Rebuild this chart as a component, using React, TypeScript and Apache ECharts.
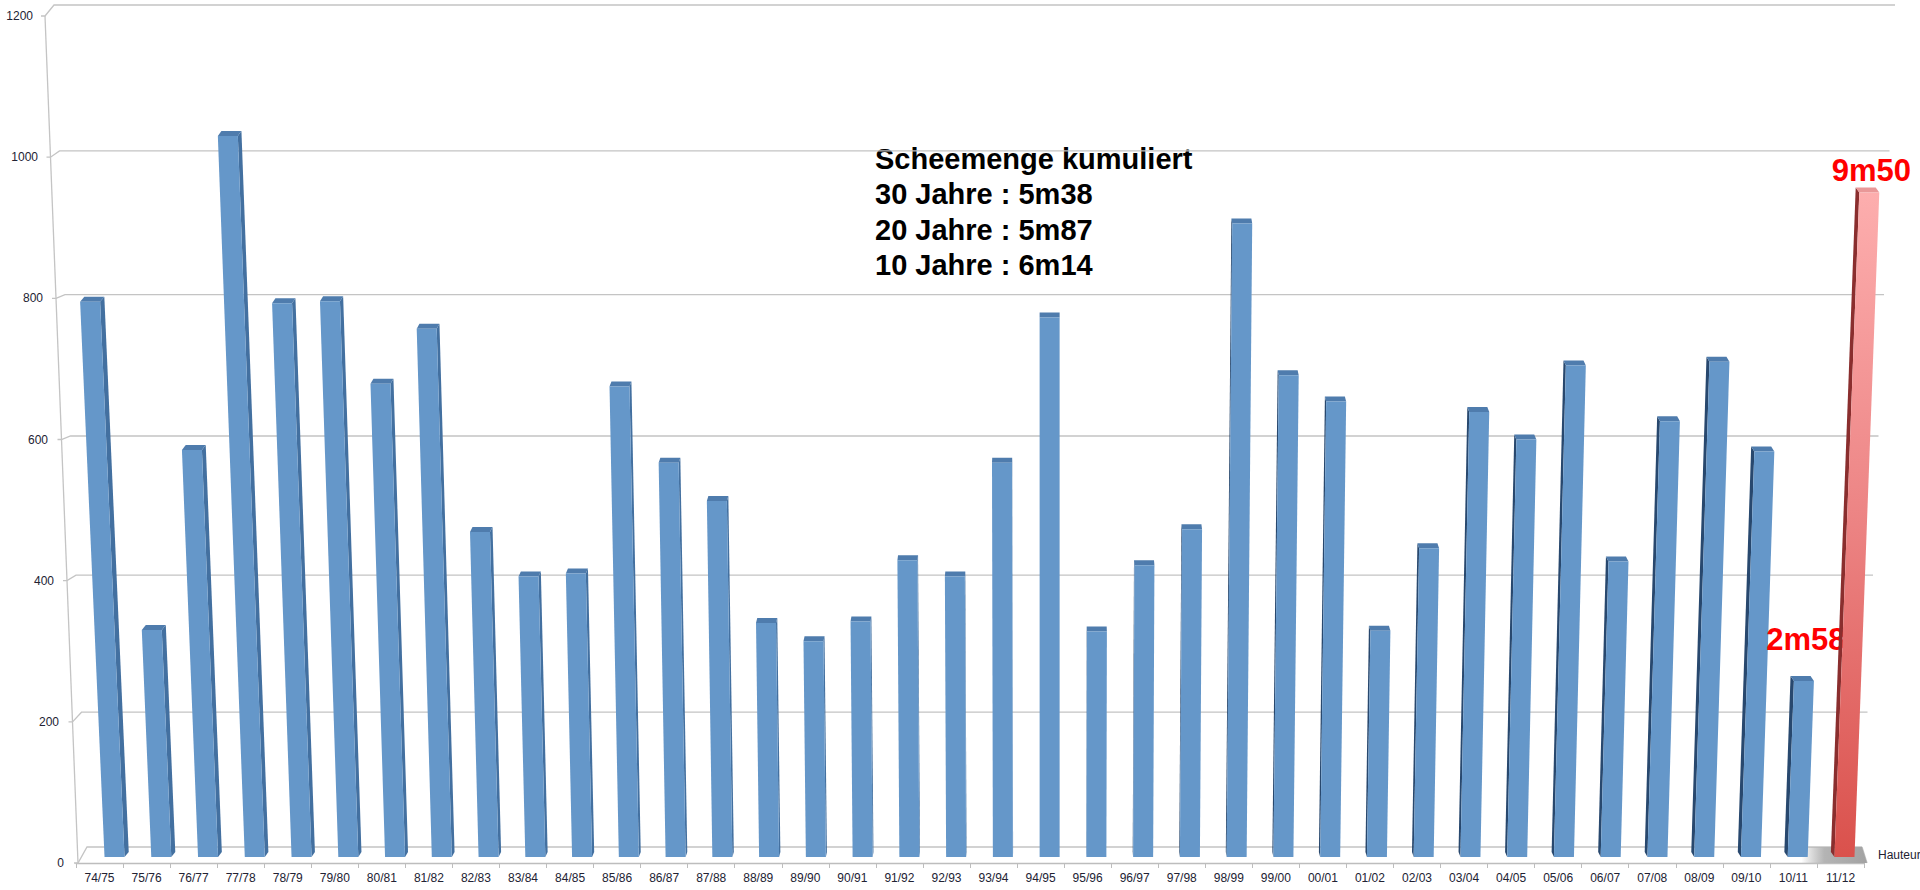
import React, { useEffect, useRef } from "react";
import * as echarts from "echarts";

// ---- data ----
const seasons = [
  "74/75", "75/76", "76/77", "77/78", "78/79", "79/80", "80/81", "81/82", "82/83", "83/84",
  "84/85", "85/86", "86/87", "87/88", "88/89", "89/90", "90/91", "91/92", "92/93", "93/94",
  "94/95", "95/96", "96/97", "97/98", "98/99", "99/00", "00/01", "01/02", "02/03", "03/04",
  "04/05", "05/06", "06/07", "07/08", "08/09", "09/10", "10/11", "11/12",
];
const pastSnow = [
  795, 330, 585, 1030, 793, 796, 679, 757, 469, 406,
  410, 675, 567, 513, 340, 314, 342, 429, 406, 567,
  773, 328, 422, 473, 906, 691, 654, 329, 446, 639,
  600, 705, 427, 626, 710, 583, 258,
];
const currentSnow = [950];
const yTicks = [0, 200, 400, 600, 800, 1000, 1200];
const summaryLines = [
  "Scheemenge kumuliert",
  "30 Jahre : 5m38",
  "20 Jahre : 5m87",
  "10 Jahre : 6m14",
];
const labelledSeasons = ["10/11", "11/12"];
const depthSeriesName = "Hauteur";

// ---- style / perspective constants ----
const FONT = '"Liberation Sans", Arial, Helvetica, sans-serif';
const Y_MAX = yTicks[yTicks.length - 1];
const VANISH_X = 1050;
const TILT = 4.7e-5;
const DEPTH_X = 0.0045;
const DEPTH_Y = 5;
const BAR_W = 20;
const LABEL_LIFT: Record<string, number> = { "10/11": 41, "11/12": 21.5 };
const GRID_COLOR = "#C4C4C4";
const TEXT_COLOR = "#222233";

const fmtMeters = (v: number) =>
  `${Math.floor(v / 100)}m${String(Math.round(v % 100)).padStart(2, "0")}`;

type Palette = { front: any; sideL: string; sideR: string; top: string };

const bluePalette: Palette = {
  front: "#6597C9",
  sideL: "#4370A0",
  sideR: "#28486E",
  top: "#4F7CAD",
};
const redPalette: Palette = {
  front: new echarts.graphic.LinearGradient(0, 0, 0, 1, [
    { offset: 0, color: "#FDAEAE" },
    { offset: 0.5, color: "#EC8383" },
    { offset: 1, color: "#DA514C" },
  ]),
  sideL: "#A84545",
  sideR: "#8A2E2E",
  top: "#E99898",
};

function makeBarRenderer(palette: Palette) {
  return (params: any, api: any) => {
    const i = api.value(0);
    const v = api.value(1);
    const n = seasons.length;
    const base = api.coord([i, 0]);
    const top = api.coord([i, v]);
    const bx = base[0] + 15 - (11 * i) / (n - 1);
    const by = base[1] - 6;
    const ty = top[1];
    const h = by - ty;
    const dx = TILT * (bx - VANISH_X) * h;
    const hw = BAR_W / 2;
    const sx = (VANISH_X - bx) * DEPTH_X;
    const dz = DEPTH_Y;
    const fl = [bx - hw, by];
    const fr = [bx + hw, by];
    const tr = [bx + hw + dx, ty];
    const tl = [bx - hw + dx, ty];
    const children: any[] = [];
    if (sx >= 0) {
      children.push({
        type: "polygon",
        shape: { points: [fr, [fr[0] + sx, by - dz], [tr[0] + sx, ty - dz], tr] },
        style: { fill: palette.sideL },
      });
    } else {
      children.push({
        type: "polygon",
        shape: { points: [fl, [fl[0] + sx, by - dz], [tl[0] + sx, ty - dz], tl] },
        style: { fill: palette.sideR },
      });
    }
    children.push({
      type: "polygon",
      shape: { points: [tl, tr, [tr[0] + sx, ty - dz], [tl[0] + sx, ty - dz]] },
      style: { fill: palette.top },
    });
    children.push({
      type: "polygon",
      shape: { points: [fl, fr, tr, tl] },
      style: { fill: palette.front },
    });
    const name = seasons[i];
    if (labelledSeasons.includes(name)) {
      children.push({
        type: "text",
        x: bx + dx + 2,
        y: ty - (LABEL_LIFT[name] ?? 20),
        style: {
          text: fmtMeters(v),
          fill: "#FF0000",
          fontSize: 31,
          fontWeight: "bold",
          fontFamily: FONT,
          align: "center",
          verticalAlign: "middle",
        },
      });
    }
    return { type: "group", children };
  };
}

function gridRenderer(params: any, api: any) {
  const v = api.value(1);
  const p = api.coord([0, v]);
  const band = api.size([1, 0])[0];
  const x0 = p[0] - band / 2;
  const x1 = x0 + band * seasons.length;
  const t = v / Y_MAX;
  const yf = p[1];
  const xf = x0 + 2 - 33 * t;
  const u = 2 * t - 1;
  const dy = 3.5 + 10 * u * u - 2.5 * u;
  const yb = yf - dy;
  const xb = xf + 9;
  const xr = x1 - 2 + 33 * t;
  const stroke = { stroke: GRID_COLOR, lineWidth: 1.3, fill: null };
  const children: any[] = [
    {
      type: "polyline",
      shape: { points: [[xf - 4, yf], [xf, yf], [xb, yb], [xr, yb]] },
      style: stroke,
    },
  ];
  if (v === 0) {
    children.push({
      type: "line",
      shape: { x1: xr, y1: yb, x2: x1 + 3, y2: yf },
      style: stroke,
    });
  }
  if (v === Y_MAX) {
    const p0 = api.coord([0, 0]);
    children.push({
      type: "line",
      shape: { x1: xf, y1: yf, x2: p0[0] - band / 2 + 2, y2: p0[1] },
      style: stroke,
    });
  }
  return { type: "group", children };
}

function floorRenderer(params: any, api: any) {
  const i = api.value(0);
  const p = api.coord([i, 0]);
  const band = api.size([1, 0])[0];
  const xEnd = p[0] + band / 2;
  const xs = api.coord([i - 1, 0])[0] + 8;
  const yf = p[1];
  const yb = yf - 16;
  return {
    type: "group",
    children: [
      {
        type: "polygon",
        shape: { points: [[xs, yb], [xEnd - 2, yb], [xEnd + 3, yf], [xs, yf]] },
        style: {
          fill: new echarts.graphic.LinearGradient(0, 0, 1, 0, [
            { offset: 0, color: "rgba(170,170,170,0)" },
            { offset: 0.35, color: "#B4B4B4" },
            { offset: 1, color: "#A2A2A2" },
          ]),
        },
      },
      {
        type: "text",
        x: xEnd + 14,
        y: yf - 8,
        style: {
          text: depthSeriesName,
          fill: TEXT_COLOR,
          fontSize: 12,
          fontFamily: FONT,
          align: "left",
          verticalAlign: "middle",
        },
      },
    ],
  };
}

export default function App() {
  const ref = useRef<HTMLDivElement>(null);
  useEffect(() => {
    if (!ref.current) return;
    const chart = echarts.init(ref.current, null, { renderer: "svg" });
    const rich: Record<string, any> = {};
    yTicks.forEach((v) => {
      rich["p" + v] = {
        padding: [0, Math.round((31 * v) / Y_MAX), 0, 0],
        fontSize: 12,
        color: TEXT_COLOR,
        fontFamily: FONT,
      };
    });
    chart.setOption({
      animation: false,
      backgroundColor: "#FFFFFF",
      textStyle: { fontFamily: FONT },
      grid: { left: 76, right: 56, top: 16, bottom: 27 },
      xAxis: {
        type: "category",
        data: seasons,
        boundaryGap: true,
        axisLine: { show: true, lineStyle: { color: "#BDBDBD", width: 1.3 } },
        axisTick: { show: true, length: 5, lineStyle: { color: "#BDBDBD" } },
        axisLabel: { margin: 9, fontSize: 12, color: TEXT_COLOR, interval: 0 },
      },
      yAxis: {
        type: "value",
        min: 0,
        max: Y_MAX,
        interval: 200,
        axisLine: { show: false },
        axisTick: { show: false },
        splitLine: { show: false },
        axisLabel: {
          margin: 12,
          formatter: (v: number) => `{p${v}|${v}}`,
          rich,
        },
      },
      graphic: [
        {
          type: "text",
          x: 875,
          y: 141,
          style: {
            text: summaryLines.join("\n"),
            fill: "#000000",
            fontSize: 29,
            fontWeight: "bold",
            fontFamily: FONT,
            lineHeight: 35.5,
            verticalAlign: "top",
          },
        },
      ],
      series: [
        {
          name: "grid",
          type: "custom",
          clip: false,
          silent: true,
          z: 1,
          renderItem: gridRenderer,
          data: yTicks.map((v) => [0, v]),
        },
        {
          name: depthSeriesName,
          type: "custom",
          clip: false,
          silent: true,
          z: 2,
          renderItem: floorRenderer,
          data: [[seasons.length - 1, 0]],
        },
        {
          name: "Schneehöhe",
          type: "custom",
          clip: false,
          z: 3,
          renderItem: makeBarRenderer(bluePalette),
          data: pastSnow.map((v, i) => [i, v]),
        },
        {
          name: "Schneehöhe 11/12",
          type: "custom",
          clip: false,
          z: 3,
          renderItem: makeBarRenderer(redPalette),
          data: currentSnow.map((v, k) => [pastSnow.length + k, v]),
        },
      ],
    });
    return () => chart.dispose();
  }, []);
  return (
    <div
      ref={ref}
      style={{ position: "absolute", left: 0, top: 0, width: 1920, height: 890, overflow: "hidden" }}
    />
  );
}
